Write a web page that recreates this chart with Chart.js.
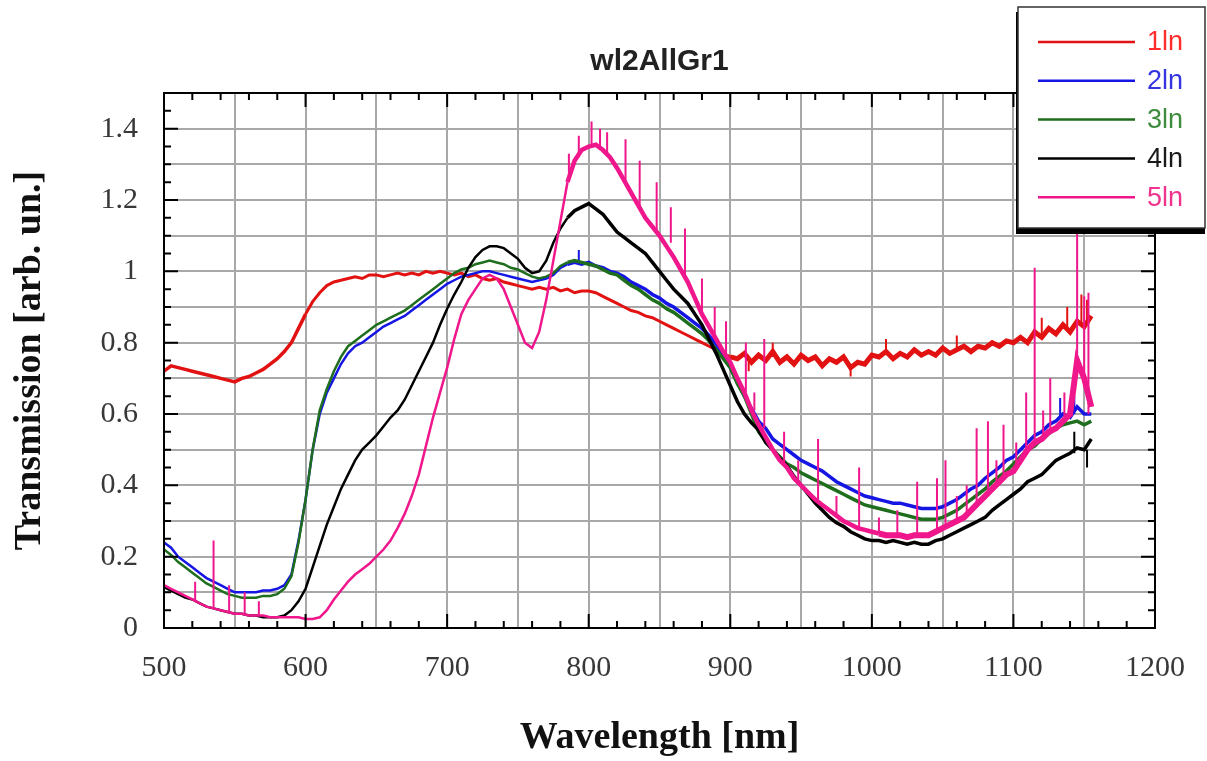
<!DOCTYPE html>
<html>
<head>
<meta charset="utf-8">
<script src="https://cdn.jsdelivr.net/npm/chart.js"></script>
<style>
  html, body { margin: 0; padding: 0; background: #fff; }
  canvas { display: block; }
</style>
</head>
<body>
<canvas id="spectra" width="1207" height="761"></canvas>
<script>
// wavelength grid [nm]
const wavelength = [
  500,505,510,515,520,525,530,535,540,545,
  550,555,560,565,570,575,580,585,590,595,
  600,605,610,615,620,625,630,635,640,645,
  650,655,660,665,670,675,680,685,690,695,
  700,705,710,715,720,725,730,735,740,745,
  750,755,760,765,770,775,780,785,790,795,
  800,805,810,815,820,825,830,835,840,845,
  850,855,860,865,870,875,880,885,890,895,
  900,905,910,915,920,925,930,935,940,945,
  950,955,960,965,970,975,980,985,990,995,
  1000,1005,1010,1015,1020,1025,1030,1035,1040,1045,
  1050,1055,1060,1065,1070,1075,1080,1085,1090,1095,
  1100,1105,1110,1115,1120,1125,1130,1135,1140,1145,
  1150,1155
]

const ln1 = [
  .72,.735,.73,.725,.72,.715,.71,.705,.70,.695,
  .69,.70,.705,.715,.725,.74,.755,.775,.80,.84,
  .88,.915,.94,.96,.97,.975,.98,.985,.98,.99,
  .99,.985,.99,.995,.99,.995,.99,1.0,.995,1.0,
  .995,.99,.995,.985,.99,.98,.975,.98,.97,.965,
  .96,.955,.95,.955,.95,.955,.945,.95,.94,.945,
  .945,.94,.93,.92,.91,.90,.89,.885,.875,.87,
  .86,.85,.84,.83,.82,.81,.80,.79,.78,.77,
  .76,.755,.77,.745,.765,.75,.775,.745,.76,.74,
  .765,.75,.76,.735,.755,.745,.76,.73,.745,.74,
  .765,.76,.775,.755,.77,.76,.78,.765,.775,.765,
  .785,.77,.78,.79,.775,.79,.785,.80,.79,.805,
  .80,.815,.80,.83,.815,.84,.825,.85,.83,.86,
  .845,.875
]

const ln2 = [
  .24,.225,.20,.185,.17,.155,.14,.13,.12,.11,
  .10,.10,.10,.10,.105,.105,.11,.12,.15,.245,
  .36,.50,.60,.66,.70,.74,.77,.79,.80,.815,
  .83,.845,.855,.865,.875,.89,.905,.92,.935,.95,
  .965,.975,.985,.99,.995,1.0,1.0,.995,.99,.985,
  .98,.975,.97,.975,.98,.99,1.01,1.02,1.025,1.02,
  1.025,1.015,1.01,1.0,.995,.985,.97,.96,.95,.935,
  .925,.91,.90,.885,.87,.855,.84,.82,.795,.76,
  .73,.69,.65,.615,.58,.56,.53,.515,.50,.485,
  .47,.46,.45,.44,.425,.41,.40,.39,.38,.37,
  .365,.36,.355,.35,.35,.345,.34,.335,.335,.335,
  .34,.35,.36,.375,.39,.40,.42,.435,.45,.47,
  .48,.50,.52,.54,.55,.57,.58,.60,.59,.62,
  .60,.60
]

const ln3 = [
  .22,.205,.185,.17,.155,.14,.125,.115,.105,.095,
  .09,.085,.085,.085,.09,.09,.095,.11,.145,.24,
  .36,.50,.61,.67,.72,.76,.79,.805,.82,.835,
  .85,.86,.87,.88,.89,.905,.92,.935,.95,.965,
  .98,.995,1.005,1.01,1.02,1.025,1.03,1.025,1.02,1.01,
  1.005,.995,.985,.98,.985,.995,1.015,1.025,1.03,1.025,
  1.02,1.015,1.005,.995,.99,.975,.96,.95,.935,.92,
  .91,.895,.885,.87,.855,.84,.825,.805,.78,.755,
  .73,.685,.65,.60,.55,.525,.50,.48,.46,.45,
  .435,.425,.415,.405,.395,.385,.375,.365,.355,.345,
  .34,.335,.33,.325,.32,.315,.31,.305,.305,.305,
  .31,.32,.33,.345,.36,.375,.39,.41,.425,.44,
  .46,.48,.50,.51,.53,.545,.56,.57,.575,.58,
  .57,.58
]

const ln4 = [
  .115,.105,.095,.085,.08,.07,.06,.055,.05,.045,
  .04,.04,.035,.035,.03,.03,.03,.035,.05,.075,
  .11,.17,.23,.29,.34,.39,.43,.47,.50,.52,
  .54,.565,.59,.61,.64,.68,.72,.76,.80,.85,
  .895,.935,.97,1.01,1.04,1.06,1.07,1.07,1.065,1.05,
  1.035,1.01,.995,1.0,1.03,1.08,1.12,1.15,1.17,1.18,
  1.19,1.175,1.16,1.135,1.11,1.095,1.08,1.065,1.05,1.025,
  1.0,.975,.95,.93,.91,.88,.85,.81,.77,.725,
  .68,.635,.60,.575,.555,.52,.50,.475,.455,.425,
  .40,.375,.35,.33,.31,.295,.285,.27,.26,.25,
  .245,.245,.24,.245,.24,.235,.24,.235,.235,.245,
  .25,.26,.27,.28,.29,.30,.31,.33,.345,.36,
  .375,.39,.41,.42,.43,.45,.47,.48,.49,.505,
  .50,.53
]

const ln5 = [
  .12,.11,.10,.09,.08,.07,.06,.055,.05,.045,
  .04,.04,.035,.035,.035,.03,.03,.03,.03,.03,
  .025,.025,.03,.05,.08,.105,.13,.15,.165,.18,
  .20,.22,.245,.28,.32,.37,.43,.51,.59,.66,
  .73,.81,.88,.92,.95,.98,.99,.98,.95,.90,
  .85,.80,.785,.83,.92,1.03,1.14,1.25,1.31,1.34,
  1.35,1.355,1.34,1.32,1.29,1.255,1.22,1.185,1.15,1.125,
  1.10,1.07,1.04,1.005,.97,.925,.88,.845,.81,.775,
  .745,.70,.66,.61,.57,.535,.50,.47,.45,.42,
  .40,.38,.36,.345,.33,.315,.30,.29,.28,.275,
  .27,.265,.26,.26,.26,.255,.26,.26,.26,.27,
  .28,.29,.30,.31,.33,.35,.37,.39,.41,.43,
  .44,.47,.50,.52,.53,.55,.56,.58,.60,.75,
  .70,.62
]

// narrow spikes: [wavelength, base value, peak value]
const ln1Spikes = [[913,.76,.72],[930,.76,.80],[985,.74,.705],[1010,.77,.81],[1060,.78,.82],
  [1120,.82,.87],[1138,.84,.90],[1148,.85,.935],[1152,.86,.92]]
const ln2Spikes = [[793,1.02,1.06],[1133,.59,.645],[1143,.60,.65]]
const ln4Spikes = [[1143,.49,.55],[1152,.50,.45]]
const ln5Spikes = [[522,.075,.13],[535,.055,.245],[546,.045,.12],[557,.04,.10],[567,.035,.075],
  [786,1.27,1.33],[793,1.32,1.38],[802,1.35,1.42],[808,1.35,1.40],[813,1.33,1.39],[826,1.25,1.37],
  [836,1.18,1.31],[848,1.11,1.25],[858,1.08,1.18],[868,.98,1.12],[880,.88,.98],[889,.81,.90],
  [897,.76,.86],[911,.66,.80],[917,.61,.66],[924,.56,.81],[938,.46,.55],[948,.41,.47],[962,.36,.53],
  [975,.315,.37],[991,.28,.45],[1005,.265,.31],[1018,.26,.33],[1032,.26,.41],[1046,.27,.42],
  [1052,.28,.47],[1060,.30,.37],[1067,.32,.40],[1074,.345,.56],[1082,.37,.58],[1088,.40,.47],
  [1093,.42,.57],[1102,.45,.52],[1109,.50,.66],[1115,.52,1.01],[1121,.53,.61],[1126,.55,.70],
  [1136,.58,.66],[1145,.75,1.11],[1150,.70,.93],[1153,.60,.94]]

const seriesNames = ['1ln', '2ln', '3ln', '4ln', '5ln']
const lineColors = ['#e31212', '#1616e4', '#1e6e1e', '#000000', '#f0168c']
const legendTextColors = ['#ff2c2c', '#3434e0', '#3f8c3f', '#1a1a1a', '#f0338c']
const xTicks = [500, 600, 700, 800, 900, 1000, 1100, 1200]

// line thickness per series: the noisy parts of the spectra read as wider bands
const bandWidth = [
  x => x > 895 ? 5 : x < 600 ? 3.5 : 3,
  x => x > 780 ? 3.5 : 2.5,
  x => x > 780 ? 3.5 : 2.5,
  x => x > 780 ? 3.5 : 2.5,
  x => x > 1000 ? 6 : x > 780 ? 4.5 : 2.5
]

const toPoints = ys => wavelength.map((x, i) => ({ x, y: ys[i] }))
const toSpikes = list => list.flatMap(([x, a, b]) => [{ x, y: a }, { x, y: b }, { x, y: null }])

const mainSets = [ln1, ln2, ln3, ln4, ln5].map((ys, i) => ({
  label: seriesNames[i],
  data: toPoints(ys),
  borderColor: lineColors[i],
  borderWidth: 2.5,
  segment: { borderWidth: c => bandWidth[i](c.p0.parsed.x) },
  pointRadius: 0,
  fill: false,
  order: 5 - i
}))
const spikeSets = [[0, ln1Spikes], [1, ln2Spikes], [3, ln4Spikes], [4, ln5Spikes]].map(([i, s]) => ({
  label: seriesNames[i] + ' spikes',
  data: toSpikes(s),
  borderColor: lineColors[i],
  borderWidth: 2,
  pointRadius: 0,
  fill: false,
  spanGaps: false,
  order: 5 - i
}))

// inward ticks on all four sides plus the frame
const frameTicks = {
  id: 'frameTicks',
  afterDatasetsDraw(chart) {
    const { ctx, chartArea: a, scales: { x, y } } = chart
    ctx.save()
    ctx.strokeStyle = '#000'
    ctx.lineWidth = 2
    ctx.strokeRect(a.left, a.top, a.right - a.left, a.bottom - a.top)
    ctx.beginPath()
    for (let v = 500; v <= 1200; v += 20) {
      const px = x.getPixelForValue(v)
      const len = v % 100 === 0 ? 14 : 7
      ctx.moveTo(px, a.bottom); ctx.lineTo(px, a.bottom - len)
      ctx.moveTo(px, a.top); ctx.lineTo(px, a.top + len)
    }
    for (let k = 0; k <= 30; k++) {
      const py = y.getPixelForValue(k * 0.05)
      const len = k % 4 === 0 ? 14 : 7
      ctx.moveTo(a.left, py); ctx.lineTo(a.left + len, py)
      ctx.moveTo(a.right, py); ctx.lineTo(a.right - len, py)
    }
    ctx.stroke()
    ctx.restore()
  }
}

// boxed legend in the top right corner
const boxLegend = {
  id: 'boxLegend',
  afterDraw(chart) {
    const ctx = chart.ctx
    ctx.save()
    ctx.fillStyle = '#000'
    ctx.fillRect(1016, 12, 189, 222)
    ctx.fillStyle = '#fff'
    ctx.fillRect(1018, 7, 187, 221)
    ctx.strokeStyle = '#333'
    ctx.lineWidth = 1.5
    ctx.strokeRect(1018, 7, 187, 221)
    ctx.font = '27px "Liberation Sans", Arial, sans-serif'
    ctx.textBaseline = 'middle'
    seriesNames.forEach((name, i) => {
      const rowY = 42 + i * 38.8
      ctx.strokeStyle = lineColors[i]
      ctx.lineWidth = 2.5
      ctx.beginPath()
      ctx.moveTo(1038, rowY); ctx.lineTo(1135, rowY)
      ctx.stroke()
      ctx.fillStyle = legendTextColors[i]
      ctx.fillText(name, 1147, rowY + 1)
    })
    ctx.restore()
  }
}

const chart = new Chart(document.getElementById('spectra'), {
  type: 'line',
  data: { datasets: [...mainSets, ...spikeSets] },
  options: {
    responsive: false,
    animation: false,
    layout: { padding: { left: 0, right: 49, top: 0, bottom: 0 } },
    plugins: {
      legend: { display: false },
      tooltip: { enabled: false },
      title: {
        display: true,
        fullSize: false,
        text: 'wl2AllGr1',
        color: '#222',
        font: { family: '"Liberation Sans", Arial, sans-serif', size: 30, weight: 'bold' },
        padding: { top: 44, bottom: 13 }
      }
    },
    scales: {
      x: {
        type: 'linear',
        min: 500,
        max: 1200,
        afterFit: s => { s.height = 133 },
        grid: { color: '#a8a8a8', lineWidth: 2, drawTicks: false },
        border: { color: '#000', width: 2 },
        ticks: {
          stepSize: 50,
          autoSkip: false,
          maxRotation: 0,
          padding: 22,
          color: '#383838',
          font: { family: '"Liberation Serif", "Times New Roman", serif', size: 30 },
          callback: v => xTicks.includes(v) ? String(v) : ''
        },
        title: {
          display: true,
          text: 'Wavelength [nm]',
          color: '#111',
          font: { family: '"Liberation Serif", "Times New Roman", serif', size: 38, weight: 'bold' },
          padding: { top: 0, bottom: 0 }
        }
      },
      y: {
        min: 0,
        max: 1.5,
        afterFit: s => { s.width = 164 },
        grid: { color: '#a8a8a8', lineWidth: 2, drawTicks: false },
        border: { color: '#000', width: 2 },
        ticks: {
          stepSize: 0.1,
          autoSkip: false,
          padding: 26,
          color: '#383838',
          font: { family: '"Liberation Serif", "Times New Roman", serif', size: 30 },
          callback: v => {
            const k = Math.round(v * 10)
            if (k % 2 || k > 14) return ''
            return k === 0 ? '0' : k === 10 ? '1' : (k / 10).toString()
          }
        },
        title: {
          display: true,
          text: 'Transmission [arb. un.]',
          color: '#111',
          font: { family: '"Liberation Serif", "Times New Roman", serif', size: 38, weight: 'bold' },
          padding: { top: 7, bottom: 0 }
        }
      }
    }
  },
  plugins: [frameTicks, boxLegend]
})
</script>
</body>
</html>
